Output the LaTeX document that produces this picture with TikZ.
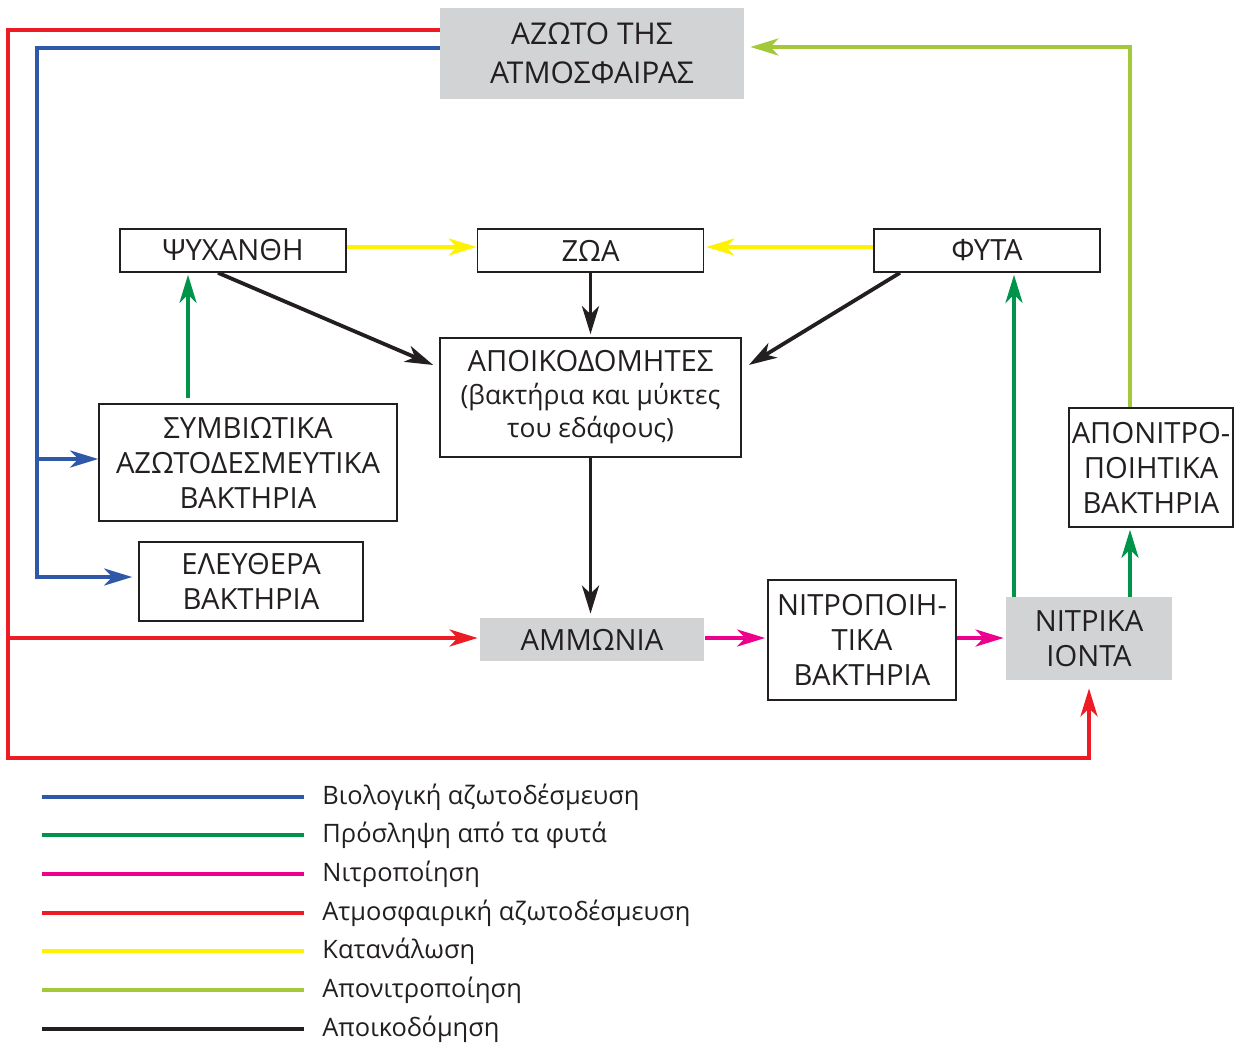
\documentclass[tikz,border=0pt]{standalone}
\usepackage{fontspec}
\setmainfont{Open Sans}
\usetikzlibrary{arrows.meta}
\definecolor{cred}{HTML}{ED1C24}
\definecolor{cblue}{HTML}{2F58A8}
\definecolor{cgreen}{HTML}{00944A}
\definecolor{cmag}{HTML}{EC008C}
\definecolor{cyel}{HTML}{FFF200}
\definecolor{clgreen}{HTML}{A3C93A}
\definecolor{cblack}{HTML}{231F20}
\definecolor{cgray}{HTML}{D1D3D4}
\tikzset{
  box/.style={draw=cblack, line width=0.8pt, fill=white, align=center, inner sep=0pt, text=cblack,
    font=\fontsize{14.6}{17.5}\selectfont},
  graybox/.style={fill=cgray, align=center, inner sep=0pt, text=cblack,
    font=\fontsize{14.6}{17.5}\selectfont},
  conn/.style={line width=1.9pt, -{Stealth[length=14pt,width=8.5pt,inset=4pt]}},
  leg/.style={line width=2.4pt},
  legtext/.style={anchor=west, inner sep=0pt, text=cblack, font=\fontsize{12.7}{15}\selectfont}
}
\begin{document}
\begin{tikzpicture}[x=0.5pt,y=-0.5pt]
\useasboundingbox (0,0) rectangle (1234,1043);
% nodes
\node[graybox, minimum width=152pt, minimum height=45.5pt, font=\fontsize{15}{19.5}\selectfont] (azoto) at (592,53.5) {ΑΖΩΤΟ ΤΗΣ\\ΑΤΜΟΣΦΑΙΡΑΣ};
\node[box, minimum width=113pt, minimum height=21.5pt] (psy) at (233,250.5) {ΨΥΧΑΝΘΗ};
\node[box, minimum width=113pt, minimum height=21.5pt] (zoa) at (590.5,250.5) {ΖΩΑ};
\node[box, minimum width=113pt, minimum height=21.5pt] (fyta) at (987,250.5) {ΦΥΤΑ};
\node[box, minimum width=150.5pt, minimum height=59.5pt, font=\fontsize{14.6}{16.5}\selectfont] (apoik) at (590.5,397.5) {ΑΠΟΙΚΟΔΟΜΗΤΕΣ\\{\fontsize{13.2}{16.5}\selectfont (βακτήρια και μύκτες}\\{\fontsize{13.2}{16.5}\selectfont του εδάφους)}};
\node[box, minimum width=149pt, minimum height=58.5pt] (symb) at (248,462.5) {ΣΥΜΒΙΩΤΙΚΑ\\ΑΖΩΤΟΔΕΣΜΕΥΤΙΚΑ\\ΒΑΚΤΗΡΙΑ};
\node[box, minimum width=112pt, minimum height=39.5pt] (eleu) at (251,581.5) {ΕΛΕΥΘΕΡΑ\\ΒΑΚΤΗΡΙΑ};
\node[graybox, minimum width=112pt, minimum height=21.5pt] (ammo) at (592,639.5) {ΑΜΜΩΝΙΑ};
\node[box, minimum width=94pt, minimum height=60pt] (nitro) at (862,640) {ΝΙΤΡΟΠΟΙΗ-\\ΤΙΚΑ\\ΒΑΚΤΗΡΙΑ};
\node[graybox, minimum width=83pt, minimum height=41.5pt] (nitrika) at (1089,638.5) {ΝΙΤΡΙΚΑ\\ΙΟΝΤΑ};
\node[box, minimum width=82pt, minimum height=59.5pt] (apon) at (1151,467.5) {ΑΠΟΝΙΤΡΟ-\\ΠΟΙΗΤΙΚΑ\\ΒΑΚΤΗΡΙΑ};
% corner coordinates
\coordinate (rc) at (8,758);
\coordinate (rb) at (8,638);
\coordinate (bc) at (37,577);
\coordinate (bb) at (37,459);
% red: atmospheric fixation
\draw[conn, cred, line join=miter] ([yshift=11.75pt]azoto.west) -| (rc) -| ([yshift=-4pt]nitrika.south);
\draw[conn, cred] (rb) -- ([xshift=-1pt]rb -| ammo.west);
% blue: biological fixation
\draw[conn, cblue, line join=miter] ([yshift=2.75pt]azoto.west) -| (bc) -- ([xshift=-3pt]bc -| eleu.west);
\draw[conn, cblue] (bb) -- (bb -| symb.west);
% light green: denitrification
\draw[conn, clgreen, line join=miter] ([xshift=-10.5pt]apon.north) |- ([xshift=3pt,yshift=3.25pt]azoto.east);
% yellow: consumption
\draw[conn, cyel] ([yshift=1.75pt]psy.east) -- ([yshift=1.75pt]zoa.west);
\draw[conn, cyel] ([yshift=1.75pt]fyta.west) -- ([xshift=1pt,yshift=1.75pt]zoa.east);
% black: decomposition
\draw[conn, cblack] ([xshift=-7.5pt]psy.south) -- ([xshift=-3pt,yshift=16.25pt]apoik.west);
\draw[conn, cblack] (zoa.south) -- ([yshift=1.5pt]apoik.north);
\draw[conn, cblack] ([xshift=-43.5pt]fyta.south) -- ([xshift=3.5pt,yshift=16.25pt]apoik.east);
\draw[conn, cblack] (apoik.south) -- ([yshift=2pt]apoik.south |- ammo.north);
% green: uptake by plants
\draw[conn, cgreen] ([xshift=-30pt,yshift=2.5pt]symb.north) -- ([xshift=-30pt,yshift=-1pt]symb.north |- psy.south);
\draw[conn, cgreen] ([xshift=-37.5pt]nitrika.north) -- ([xshift=-37.5pt,yshift=-1pt]nitrika.north |- fyta.south);
\draw[conn, cgreen] ([xshift=20.5pt]nitrika.north) -- ([xshift=20.5pt,yshift=-1pt]nitrika.north |- apon.south);
% magenta: nitrification
\draw[conn, cmag] ([xshift=0.5pt,yshift=0.75pt]ammo.east) -- ([xshift=-1pt,yshift=1pt]nitro.west);
\draw[conn, cmag] ([yshift=1pt]nitro.east) -- ([xshift=-1pt,yshift=0.25pt]nitrika.west);
% legend
\draw[leg, cblue] (42,797) -- (304,797);
\draw[leg, cgreen] (42,835) -- (304,835);
\draw[leg, cmag] (42,874) -- (304,874);
\draw[leg, cred] (42,913) -- (304,913);
\draw[leg, cyel] (42,951) -- (304,951);
\draw[leg, clgreen] (42,990) -- (304,990);
\draw[leg, cblack] (42,1029) -- (304,1029);
\node[legtext] (l1) at (322,797) {Βιολογική αζωτοδέσμευση};
\node[legtext] (l2) at (322,835) {Πρόσληψη από τα φυτά};
\node[legtext] (l3) at (322,874) {Νιτροποίηση};
\node[legtext] (l4) at (322,913) {Ατμοσφαιρική αζωτοδέσμευση};
\node[legtext] (l5) at (322,951) {Κατανάλωση};
\node[legtext] (l6) at (322,990) {Απονιτροποίηση};
\node[legtext] (l7) at (322,1029) {Αποικοδόμηση};
\end{tikzpicture}
\end{document}
